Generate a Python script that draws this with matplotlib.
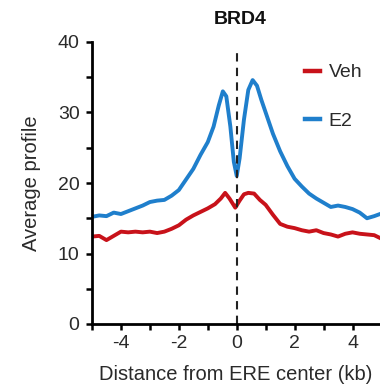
import matplotlib
matplotlib.use("Agg")
import matplotlib.pyplot as plt
import numpy as np

plt.rcParams['font.family'] = ['Liberation Sans', 'DejaVu Sans']

x_e2 = [-5, -4.75, -4.5, -4.25, -4, -3.75, -3.5, -3.25, -3, -2.75, -2.5, -2.25, -2,
        -1.75, -1.5, -1.25, -1, -0.8, -0.62, -0.48, -0.36, -0.22, -0.1, 0.0, 0.1, 0.25,
        0.4, 0.55, 0.7, 0.85, 1, 1.25, 1.5, 1.75, 2, 2.25, 2.5, 2.75, 3, 3.25, 3.5, 3.75,
        4, 4.25, 4.5, 4.75, 4.95]
e2 = [15.2, 15.4, 15.3, 15.8, 15.6, 16.0, 16.4, 16.8, 17.3, 17.5, 17.6, 18.2, 19.0,
      20.5, 22.0, 24.0, 25.8, 28.0, 31.0, 33.0, 32.3, 28.0, 23.0, 21.0, 23.5, 29.0,
      33.2, 34.6, 33.8, 31.8, 30.0, 27.0, 24.5, 22.4, 20.6, 19.5, 18.5, 17.8, 17.2, 16.6,
      16.8, 16.6, 16.3, 15.8, 15.0, 15.3, 15.6]

x_veh = [-5, -4.75, -4.5, -4.25, -4, -3.75, -3.5, -3.25, -3, -2.75, -2.5, -2.25, -2,
         -1.75, -1.5, -1.25, -1, -0.75, -0.55, -0.4, -0.25, -0.05, 0.1, 0.25, 0.4,
         0.6, 0.8, 1, 1.25, 1.5, 1.75, 2, 2.25, 2.5, 2.75, 3, 3.25, 3.5, 3.75, 4,
         4.25, 4.5, 4.75, 4.95]
veh = [12.4, 12.5, 11.9, 12.5, 13.1, 13.0, 13.1, 13.0, 13.1, 12.9, 13.1, 13.5, 14.0,
       14.8, 15.4, 15.9, 16.4, 17.0, 17.8, 18.6, 17.8, 16.5, 17.5, 18.4, 18.6,
       18.5, 17.6, 16.9, 15.5, 14.2, 13.8, 13.6, 13.3, 13.1, 13.3, 12.9, 12.7, 12.4,
       12.8, 13.0, 12.8, 12.7, 12.6, 12.2]

xticks = [-4, -2, 0, 2, 4]
yticks = [0, 10, 20, 30, 40]

txt = '#2a2a2a'
fig = plt.figure(figsize=(3.8, 3.89), dpi=100)
ax = fig.add_axes([92/380, 65/389, 288/380, 282/389])

ax.plot(x_veh, veh, color='#c8121a', lw=2.8, label='Veh')
ax.plot(x_e2, e2, color='#1f7fcc', lw=2.8, label='E2')
ax.plot([0, 0], [0, 39.2], color='#222222', lw=1.5, ls=(0, (4, 3)))

ax.set_xlim(-5, 4.95)
ax.set_ylim(0, 40)
ax.set_xticks(xticks)
ax.set_xticklabels(['-4', '-2', '0', '2', '4'])
ax.set_yticks(yticks)
ax.set_xticks([-5, -3, -1, 1, 3], minor=True)
ax.set_yticks([5, 15, 25, 35], minor=True)
for s in ['top', 'right']:
    ax.spines[s].set_visible(False)
for s in ['left', 'bottom']:
    ax.spines[s].set_linewidth(2.0)
ax.tick_params(which='both', direction='out', length=4, width=1.8, labelsize=14,
               colors='black', labelcolor=txt)
ax.tick_params(axis='x', pad=4)
ax.tick_params(axis='y', pad=5)
ax.set_xlabel('Distance from ERE center (kb)', fontsize=14.5, labelpad=9, color=txt)
ax.set_ylabel('Average profile', fontsize=14.5, labelpad=12, color=txt)
fig.text(240/380, 1 - 20/389, 'BRD4', ha='center', va='center', fontsize=14,
         fontweight='bold', color='#111111')

leg = ax.legend(frameon=False, handlelength=0.75, labelspacing=1.6, fontsize=14,
                loc='upper left', bbox_to_anchor=(0.68, 0.985), handletextpad=0.45)
for t in leg.get_texts():
    t.set_color(txt)
for h in leg.get_lines():
    h.set_linewidth(3.2)

fig.savefig('out.png', dpi=100)
